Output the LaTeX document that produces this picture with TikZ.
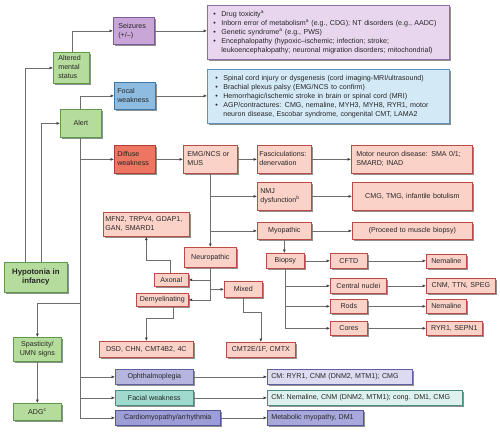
\documentclass[tikz,border=0pt]{standalone}
\usepackage{fontspec}
\setmainfont{Liberation Sans}
\usetikzlibrary{arrows.meta,shadows}
\definecolor{gF}{HTML}{B5DC9C}\definecolor{gD}{HTML}{5E9A4A}
\definecolor{pF}{HTML}{C9A6D8}\definecolor{pD}{HTML}{7E5A98}
\definecolor{plF}{HTML}{E8D6EE}\definecolor{plD}{HTML}{8E6CA8}
\definecolor{bF}{HTML}{8EBCE0}\definecolor{bD}{HTML}{3C78A8}
\definecolor{blF}{HTML}{D4E9F6}\definecolor{blD}{HTML}{5B93BF}
\definecolor{dF}{HTML}{EE7562}\definecolor{dD}{HTML}{B23C34}
\definecolor{sF}{HTML}{FBD2C8}\definecolor{sD}{HTML}{BE4A44}
\definecolor{oF}{HTML}{B6B5E0}\definecolor{oD}{HTML}{5F5E9E}
\definecolor{olF}{HTML}{DCDBF1}
\definecolor{fF}{HTML}{A0DACE}\definecolor{fD}{HTML}{4A8E82}
\definecolor{flF}{HTML}{DDF2EE}
\definecolor{cF}{HTML}{9D9DD8}\definecolor{cD}{HTML}{55559A}
\definecolor{clF}{HTML}{A8A8DC}
\definecolor{lnc}{HTML}{6E6E6E}
\newcommand{\tl}[1]{\begin{tabular}{@{}l@{}}#1\end{tabular}}
\newcommand{\bu}{\makebox[8pt][l]{\textbullet}}
\newcommand{\ic}{\hspace*{8pt}}
\newcommand{\sps}[1]{\textsuperscript{#1}}
\newcommand{\bx}[8]{%
 \pgfmathsetmacro\bw{#5-#3}\pgfmathsetmacro\bh{#6-#4}\pgfmathsetmacro\tw{#5-#3-2*#7}%
 \node[#2,anchor=north west,minimum width=\bw pt,minimum height=\bh pt,inner xsep=#7pt,text width=\tw pt] (#1) at (#3,#4) {#8};}
\tikzset{
 box/.style={draw, line width=0.7pt, inner ysep=1pt, font=\fontsize{7.1}{9}\selectfont, text=black!85,
   drop shadow={shadow xshift=1.3pt,shadow yshift=-1.3pt,fill=black!55,opacity=0.8}},
 gr/.style={box, fill=gF, draw=gD},
 pu/.style={box, fill=pF, draw=pD},
 pl/.style={box, fill=plF, draw=plD},
 bl/.style={box, fill=bF, draw=bD},
 bll/.style={box, fill=blF, draw=blD},
 df/.style={box, fill=dF, draw=dD},
 sa/.style={box, fill=sF, draw=sD},
 op/.style={box, fill=oF, draw=oD},
 opl/.style={box, fill=olF, draw=oD},
 fa/.style={box, fill=fF, draw=fD},
 fal/.style={box, fill=flF, draw=fD},
 ca/.style={box, fill=cF, draw=cD},
 cal/.style={box, fill=clF, draw=cD},
 arr/.style={draw=lnc, line width=0.6pt, -{Latex[length=3.5pt,width=3pt,color=black!75]}},
 cline/.style={draw=lnc, line width=0.6pt}
}
\begin{document}
\begin{tikzpicture}[x=1pt,y=-1pt]
\fill[white] (0,0) rectangle (500,432);
\useasboundingbox (0,0) rectangle (500,432);
% nodes
\bx{hyp}{gr,align=center}{4}{262}{67}{292}{2}{{\fontsize{7.8}{10}\selectfont\bfseries Hypotonia in\\infancy}}
\bx{ams}{gr,align=left}{53}{52}{89}{83}{5}{\tl{Altered\\mental\\status}}
\bx{alert}{gr,align=center}{60}{109}{101}{137}{2}{Alert}
\bx{seiz}{pu,align=left}{113}{17}{154}{44}{5}{\tl{Seizures\\(+/–)}}
\bx{focal}{bl,align=left}{114}{82}{155}{109}{3}{\tl{Focal\\weakness}}
\bx{plist}{pl,align=left}{207}{5}{449}{59}{6}{\tl{\bu Drug toxicity\sps{a}\\
 \bu Inborn error of metabolism\sps{a} (e.g., CDG); NT disorders (e.g., AADC)\\
 \bu Genetic syndrome\sps{a} (e.g., PWS)\\
 \bu Encephalopathy (hypoxic–ischemic; infection; stroke;\\
 \ic leukoencephalopathy; neuronal migration disorders; mitochondrial)}}
\bx{blist}{bll,align=left}{207}{69}{449}{123}{8}{\tl{\bu Spinal cord injury or dysgenesis (cord imaging-MRI/ultrasound)\\
 \bu Brachial plexus palsy (EMG/NCS to confirm)\\
 \bu Hemorrhagic/ischemic stroke in brain or spinal cord (MRI)\\
 \bu AGP/contractures: CMG, nemaline, MYH3, MYH8, RYR1, motor\\
 \ic neuron disease, Escobar syndrome, congenital CMT, LAMA2}}
\bx{diffuse}{df,align=left}{114}{145}{155}{173}{3}{\tl{Diffuse\\weakness}}
\bx{emg}{sa,align=left}{183}{145}{237}{173}{4}{\tl{EMG/NCS or\\MUS}}
\bx{fasc}{sa,align=left}{257}{145}{311}{173}{2}{\tl{Fasciculations:\\denervation}}
\bx{mnd}{sa,align=left}{351}{145}{472}{173}{5}{\tl{Motor neuron disease: SMA 0/1;\\SMARD; INAD}}
\bx{nmj}{sa,align=left}{257}{182}{311}{210}{3}{\tl{NMJ\\dysfunction\sps{b}}}
\bx{cmg}{sa,align=center}{352}{182}{472}{210}{2}{CMG, TMG, infantile botulism}
\bx{myo}{sa,align=center}{257}{222}{311}{239}{2}{Myopathic}
\bx{proc}{sa,align=center}{352}{222}{472}{239}{2}{(Proceed to muscle biopsy)}
\bx{biopsy}{sa,align=center}{266}{253}{304}{268}{1}{Biopsy}
\bx{cftd}{sa,align=center}{330}{253}{367}{268}{1}{CFTD}
\bx{nemA}{sa,align=center}{426}{254}{466}{268}{1}{Nemaline}
\bx{cnuc}{sa,align=center}{330}{278}{386}{293}{1}{Central nuclei}
\bx{cnm}{sa,align=center}{426}{278}{495}{293}{1}{CNM, TTN, SPEG}
\bx{rods}{sa,align=center}{330}{299}{367}{313}{1}{Rods}
\bx{nemB}{sa,align=center}{426}{299}{466}{313}{1}{Nemaline}
\bx{cores}{sa,align=center}{330}{321}{367}{335}{1}{Cores}
\bx{ryr}{sa,align=center}{426}{321}{482}{335}{1}{RYR1, SEPN1}
\bx{mfn}{sa,align=left}{103}{212}{189}{236}{2}{\tl{MFN2, TRPV4, GDAP1,\\GAN, SMARD1}}
\bx{neuro}{sa,align=center}{184}{247}{236}{267}{1}{Neuropathic}
\bx{axonal}{sa,align=center}{154}{273}{188}{286}{1}{Axonal}
\bx{demy}{sa,align=center}{136}{293}{188}{306}{1}{Demyelinating}
\bx{mixed}{sa,align=center}{224}{281}{262}{297}{1}{Mixed}
\bx{dsd}{sa,align=center}{99}{341}{193}{357}{1}{DSD, CHN, CMT4B2, 4C}
\bx{cmt}{sa,align=center}{226}{342}{295}{357}{1}{CMT2E/1F, CMTX}
\bx{spas}{gr,align=center}{13}{337}{61}{361}{1}{Spasticity/\\UMN signs}
\bx{adg}{gr,align=center}{13}{403}{61}{420}{1}{ADG\sps{c}}
\bx{oph}{op,align=center}{115}{369}{193}{384}{1}{Ophthalmoplegia}
\bx{fac}{fa,align=center}{115}{390}{193}{405}{1}{Facial weakness}
\bx{card}{ca,align=center}{115}{410}{220}{425}{1}{Cardiomyopathy/arrhythmia}
\bx{cmr}{opl,align=left}{267}{369}{412}{384}{4}{\tl{CM: RYR1, CNM (DNM2, MTM1); CMG}}
\bx{cmn}{fal,align=left}{267}{390}{462}{405}{4}{\tl{CM: Nemaline, CNM (DNM2, MTM1); cong. DM1, CMG}}
\bx{meta}{cal,align=left}{267}{410}{363}{425}{4}{\tl{Metabolic myopathy, DM1}}
% connectors
\draw[arr] ([xshift=21pt]hyp.north west) |- (ams.west);
\draw[arr] ([xshift=37pt]hyp.north west) |- (alert.west);
\draw[arr] ([xshift=19pt]ams.north west) |- (seiz.west);
\draw[arr] ([xshift=20pt]alert.north west) |- (focal.west);
\draw[arr] (seiz.east) -- (seiz.east -| plist.west);
\draw[arr] (focal.east) -- (focal.east -| blist.west);
\coordinate (ab) at ([xshift=20pt]alert.south west);
\draw[arr] (ab) |- (card.west);
\draw[arr] (ab |- diffuse.west) -- (diffuse.west);
\draw[arr] (ab |- oph.west) -- (oph.west);
\draw[arr] (ab |- fac.west) -- (fac.west);
\draw[arr] (ab |- 0,303) -| (spas.north);
\draw[arr] (spas) -- (adg);
\draw[arr] (diffuse) -- (emg);
\draw[arr] (emg) -- (fasc);
\draw[arr] (fasc) -- (mnd);
\draw[arr] (nmj) -- (cmg);
\draw[arr] (myo) -- (proc);
\draw[arr] (emg.south) -- (neuro.north);
\draw[arr] (emg.south |- nmj.west) -- (nmj.west);
\draw[arr] (emg.south |- myo.west) -- (myo.west);
\draw[arr] (neuro.south) |- (demy.east);
\draw[arr] (neuro.south |- axonal.east) -- (axonal.east);
\draw[arr] (neuro.south |- mixed.west) -- (mixed.west);
\draw[arr] ([xshift=16pt]axonal.north west) -- ++(0,-13) -| (mfn.south);
\draw[arr] ([xshift=37pt]demy.south west) -- ++(0,12) -| (dsd.north);
\draw[arr] (mixed.south) -- ++(0,15) -| (cmt.north);
\draw[arr] (myo.south) -- (myo.south |- biopsy.north);
\draw[arr] (biopsy) -- (cftd);
\draw[arr] (cftd) -- (cftd -| nemA.west);
\draw[arr] (biopsy.south) |- (cores.west);
\draw[arr] (biopsy.south |- cnuc.west) -- (cnuc.west);
\draw[arr] (biopsy.south |- rods.west) -- (rods.west);
\draw[arr] (cnuc) -- (cnm);
\draw[arr] (rods) -- (nemB);
\draw[arr] (cores) -- (ryr);
\draw[arr] (oph) -- (cmr);
\draw[arr] (fac) -- (cmn);
\draw[arr] (card) -- (meta);
\end{tikzpicture}
\end{document}
